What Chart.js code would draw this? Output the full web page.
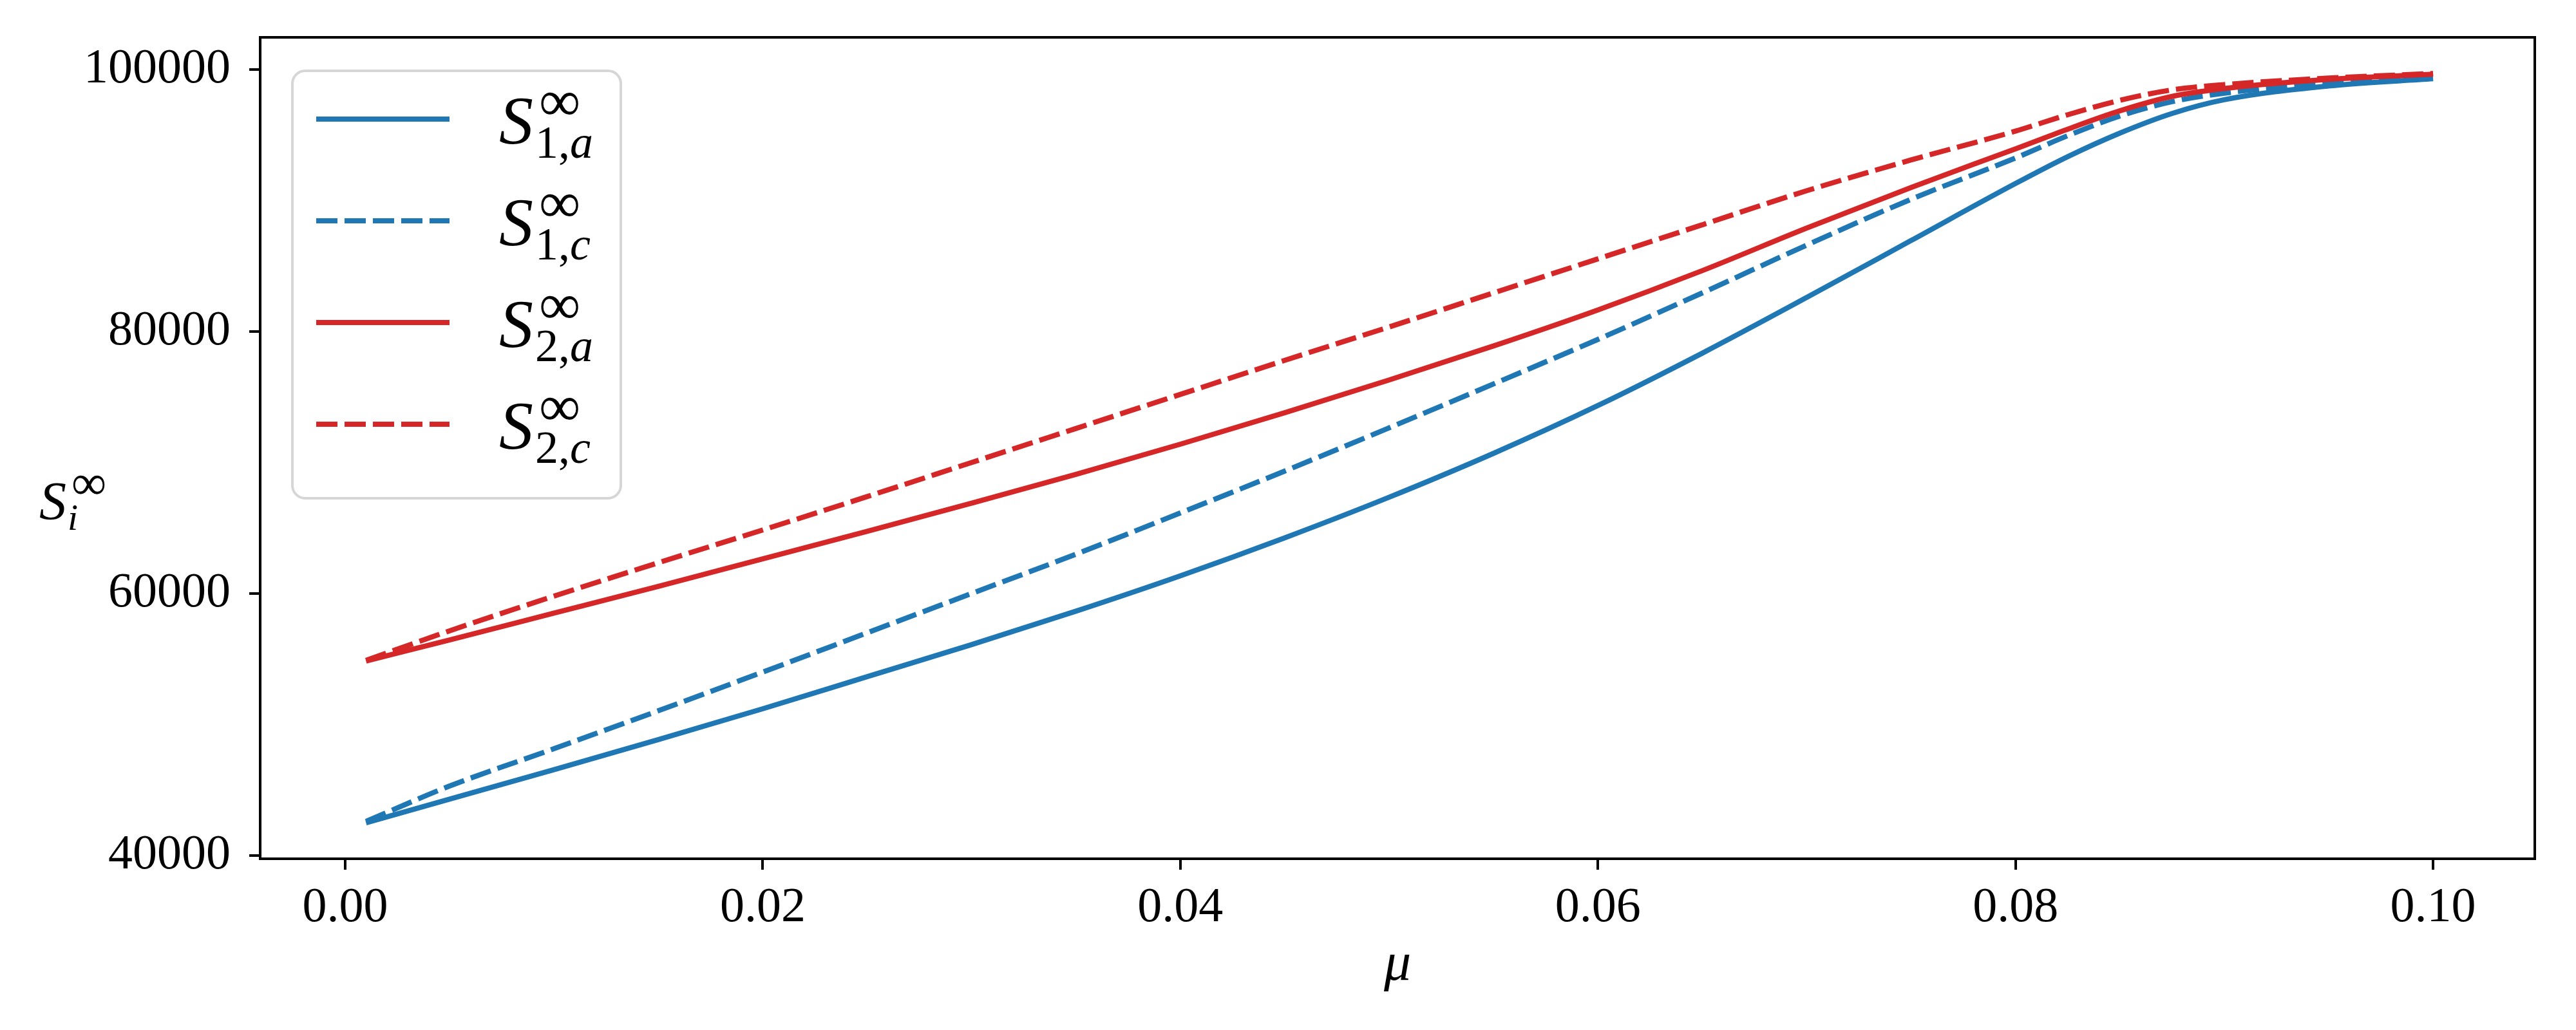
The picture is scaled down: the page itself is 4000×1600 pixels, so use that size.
<!DOCTYPE html>
<html>
<head>
<meta charset="utf-8">
<script src="https://cdn.jsdelivr.net/npm/chart.js@4.4.0/dist/chart.umd.min.js"></script>
<style>
  body { margin: 0; background: #fff; }
  #wrap { width: 4000px; height: 1600px; }
</style>
</head>
<body>
<div id="wrap"><canvas id="chartS" width="4000" height="1600"></canvas></div>
<script>
// values
var mu  = [0.001, 0.005, 0.01, 0.015, 0.02, 0.025, 0.03, 0.035, 0.04, 0.045, 0.05,
           0.055, 0.06, 0.065, 0.07, 0.075, 0.08, 0.0825, 0.085, 0.0875, 0.09, 0.095, 0.1];
var s1a = [42500, 44300, 46550, 48850, 51200, 53650, 56100, 58650, 61350, 64250, 67350,
           70700, 74350, 78350, 82600, 86950, 91300, 93350, 95150, 96650, 97700, 98750, 99300];
var s1c = [42600, 45300, 48150, 51050, 54000, 57000, 60000, 63000, 66150, 69350, 72650,
           76000, 79400, 82950, 86600, 90100, 93250, 94950, 96450, 97550, 98200, 98950, 99400];
var s2a = [54850, 56450, 58500, 60550, 62650, 64750, 66900, 69100, 71400, 73800, 76300,
           78900, 81650, 84650, 87900, 91000, 93950, 95450, 96850, 97950, 98550, 99250, 99650];
var s2c = [54900, 57150, 59800, 62350, 64850, 67400, 70000, 72600, 75200, 77800, 80350,
           82950, 85550, 88150, 90750, 93100, 95300, 96550, 97650, 98450, 98850, 99350, 99700];

var xTicks = [0, 0.02, 0.04, 0.06, 0.08, 0.10];
var yTicks = [40000, 60000, 80000, 100000];
var seriesSub = ['1,a', '1,c', '2,a', '2,c'];

var blue = '#1f77b4', red = '#d62728';
var serif = '"Liberation Serif", "DejaVu Serif", serif';

function pts(ys) {
  return mu.map(function(m, i) { return {x: m, y: ys[i]}; });
}

function line(label, ys, color, dashed, order) {
  return {
    label: label,
    data: pts(ys),
    borderColor: color,
    backgroundColor: color,
    borderWidth: 8,
    borderDash: dashed ? [33, 11] : [],
    pointRadius: 0,
    fill: false,
    cubicInterpolationMode: 'monotone',
    order: order
  };
}

// S, with a superscript and a subscript, drawn as canvas text
function drawMath(ctx, x, base, size, sup, sub, o) {
  ctx.fillStyle = '#000';
  ctx.textAlign = 'left';
  ctx.textBaseline = 'alphabetic';
  ctx.font = 'italic ' + size + 'px ' + serif;
  ctx.fillText('S', x, base);
  ctx.font = o.supSize + 'px ' + serif;
  ctx.fillText(sup, x + o.supDx, base + o.supDy);
  var parts = sub.split(',');
  var sx = x + o.subDx;
  ctx.font = o.subSize + 'px ' + serif;
  if (parts.length > 1) {
    ctx.fillText(parts[0] + ',', sx, base + o.subDy);
    sx += ctx.measureText(parts[0] + ',').width;
    ctx.font = 'italic ' + o.subSize + 'px ' + serif;
    ctx.fillText(parts[1], sx, base + o.subDy);
  } else {
    ctx.font = 'italic ' + o.subSize + 'px ' + serif;
    ctx.fillText(parts[0], sx, base + o.subDy);
  }
}

var decor = {
  id: 'decor',
  afterDraw: function(chart) {
    var ctx = chart.ctx, a = chart.chartArea;
    ctx.save();

    // full frame
    ctx.strokeStyle = '#000';
    ctx.lineWidth = 4;
    ctx.strokeRect(a.left, a.top, a.right - a.left, a.bottom - a.top);

    // legend
    var lx = a.left + 50, ly = a.top + 52, lw = 510, lh = 664;
    ctx.beginPath();
    ctx.roundRect(lx, ly, lw, lh, 20);
    ctx.fillStyle = 'rgba(255,255,255,0.8)';
    ctx.fill();
    ctx.strokeStyle = '#d6d6d6';
    ctx.lineWidth = 4;
    ctx.stroke();

    chart.data.datasets.forEach(function(ds, i) {
      var ry = ly + 75 + i * 158;
      ctx.beginPath();
      ctx.setLineDash(ds.borderDash);
      ctx.strokeStyle = ds.borderColor;
      ctx.lineWidth = ds.borderWidth;
      ctx.lineCap = 'butt';
      ctx.moveTo(lx + 37, ry);
      ctx.lineTo(lx + 244, ry);
      ctx.stroke();
      ctx.setLineDash([]);
      drawMath(ctx, lx + 321, ry + 38, 106, '\u221E', seriesSub[i],
        {supSize: 90, supDx: 62, supDy: -36, subSize: 72, subDx: 56, subDy: 22});
    });

    // y axis label
    drawMath(ctx, 61, 807, 84, '\u221E', 'i',
      {supSize: 76, supDx: 50, supDy: -32, subSize: 58, subDx: 44, subDy: 16});

    // x axis label
    ctx.font = 'italic 84px ' + serif;
    ctx.textAlign = 'center';
    ctx.textBaseline = 'alphabetic';
    ctx.fillStyle = '#000';
    ctx.fillText('\u03BC', (a.left + a.right) / 2, 1522);

    ctx.restore();
  }
};

var tickFont = {family: serif, size: 76};

new Chart(document.getElementById('chartS'), {
  type: 'line',
  data: {
    datasets: [
      line('S1,a', s1a, blue, false, 3),
      line('S1,c', s1c, blue, true, 2),
      line('S2,a', s2a, red, false, 1),
      line('S2,c', s2c, red, true, 0)
    ]
  },
  plugins: [decor],
  options: {
    responsive: false,
    devicePixelRatio: 1,
    animation: false,
    layout: { padding: {top: 58, right: 64, left: 0, bottom: 0} },
    plugins: {
      legend: { display: false },
      tooltip: { enabled: false }
    },
    scales: {
      x: {
        type: 'linear',
        min: -0.00407,
        max: 0.10487,
        afterBuildTicks: function(scale) {
          scale.ticks = xTicks.map(function(v) { return {value: v}; });
        },
        afterFit: function(scale) {
          scale.height = 1600 - 1334;
          scale.paddingLeft = 0;
          scale.paddingRight = 0;
        },
        border: { display: true, color: '#000', width: 4 },
        grid: { drawOnChartArea: false, drawTicks: true, tickLength: 17, color: '#000', lineWidth: 4 },
        ticks: {
          color: '#000',
          font: tickFont,
          padding: 14,
          maxRotation: 0,
          autoSkip: false,
          callback: function(v) { return v.toFixed(2); }
        }
      },
      y: {
        type: 'linear',
        min: 39750,
        max: 102460,
        afterBuildTicks: function(scale) {
          scale.ticks = yTicks.map(function(v) { return {value: v}; });
        },
        afterFit: function(scale) {
          scale.width = 404;
          scale.paddingTop = 0;
          scale.paddingBottom = 0;
        },
        border: { display: true, color: '#000', width: 4 },
        grid: { drawOnChartArea: false, drawTicks: true, tickLength: 17, color: '#000', lineWidth: 4 },
        ticks: {
          color: '#000',
          font: tickFont,
          padding: 29,
          autoSkip: false,
          callback: function(v) { return String(v); }
        }
      }
    }
  }
});
</script>
</body>
</html>
